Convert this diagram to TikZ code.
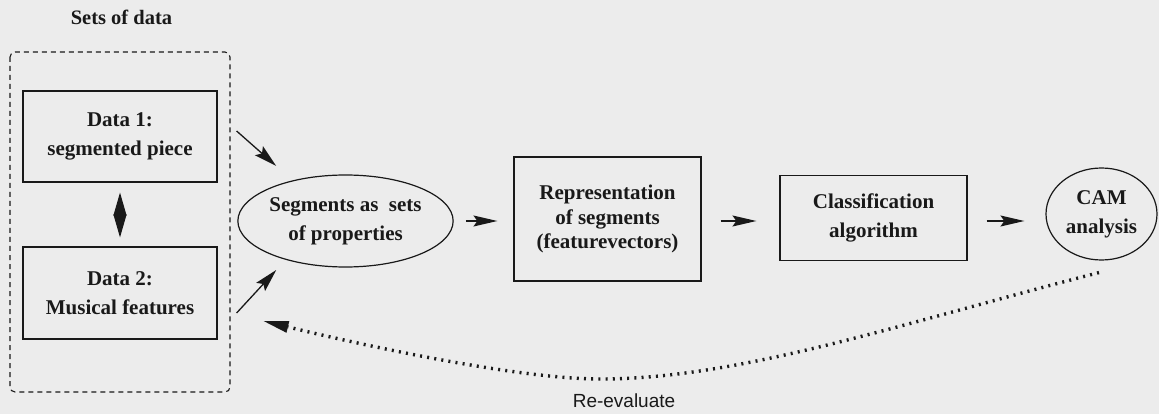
\documentclass[tikz,border=0pt]{standalone}
\usepackage{fontspec}
\setmainfont{Liberation Serif}
\newfontfamily\labelsans{Liberation Sans}
\usetikzlibrary{arrows.meta,shapes.geometric}

\definecolor{paper}{RGB}{236,236,236}
\definecolor{ink}{RGB}{25,25,25}

\tikzset{
  boxtext/.style={font=\fontsize{21}{29}\selectfont\bfseries, text=ink, align=center},
  stagebox/.style={boxtext, draw=ink, line width=1.2pt, rectangle, inner sep=0pt},
  stageoval/.style={boxtext, draw=ink, line width=1.2pt, ellipse, inner sep=0pt},
  flow/.style={draw=ink, line width=1.3pt, -{Stealth[length=24pt,width=11pt,inset=4pt]}},
  link/.style={draw=ink, line width=1.3pt, -{Stealth[length=23pt,width=12pt,inset=4pt]}},
  pair/.style={draw=ink, line width=1pt, {Triangle[length=23pt,width=13pt]}-{Triangle[length=23pt,width=13pt]}},
  feedback/.style={draw=ink, line width=3.4pt, dash pattern=on 2pt off 5.2pt,
    -{Triangle[length=25pt,width=12pt,line width=0pt]}},
  groupframe/.style={draw=ink, line width=1.1pt, dash pattern=on 5pt off 4pt, rounded corners=5pt}
}

\begin{document}
\begin{tikzpicture}[x=1pt,y=-1pt]
  % canvas
  \fill[paper] (0,0) rectangle (1159,414);
  \useasboundingbox (0,0) rectangle (1159,414);

  % group of input data sets
  \node[font=\fontsize{20.5}{24}\selectfont\bfseries, text=ink] (title) at (121.5,17) {Sets of data};
  \draw[groupframe] (10,52) rectangle (230,392);

  \node[stagebox, minimum width=194pt, minimum height=91pt] (d1) at (120,136.5)
    {Data 1:\\segmented piece};
  \node[stagebox, minimum width=194pt, minimum height=92pt] (d2) at (120,293)
    {Data 2:\\Musical features};
  \draw[pair, shorten <=10pt, shorten >=9pt] (d1.south) -- (d2.north);

  % processing chain
  \node[stageoval, minimum width=209pt, minimum height=92pt] (seg) at (345.5,221)
    {Segments as~~sets\\of properties};
  \node[stagebox, minimum width=187pt, minimum height=124pt,
        font=\fontsize{21}{24.5}\selectfont\bfseries] (rep) at (607.5,219)
    {Representation\\of segments\\(featurevectors)};
  \node[stagebox, minimum width=187pt, minimum height=85pt] (cls) at (873.5,218)
    {Classification\\algorithm};
  \node[stageoval, minimum width=111pt, minimum height=92pt] (cam) at (1101.5,214)
    {CAM\\analysis};

  % inputs into the segment description
  \draw[link] ([shift={(19,-5.5)}]d1.east) -- ([shift={(39,-55)}]seg.west);
  \draw[link] ([shift={(19,20)}]d2.east) -- ([shift={(39,49)}]seg.west);

  % forward flow
  \draw[flow, shorten <=12pt, shorten >=16pt] (seg.east) -- (seg.east -| rep.west);
  \draw[flow, shorten <=19pt, shorten >=23pt] (rep.east |- seg.east) -- (cls.west |- seg.east);
  \draw[flow, shorten <=19pt, shorten >=21pt] (cls.east |- seg.east) -- (cam.west |- seg.east);

  % feedback loop
  \coordinate (low) at (600,379);
  \draw[feedback] ([shift={(-2.5,12)}]cam.south)
      .. controls (899,324) and (740,379) .. (low)
      .. controls (520,379) and (370,347) .. ([shift={(46,28)}]d2.east);
  \node[font=\fontsize{19}{22}\selectfont\labelsans, text=ink] (re) at (624,401) {Re-evaluate};
\end{tikzpicture}
\end{document}
